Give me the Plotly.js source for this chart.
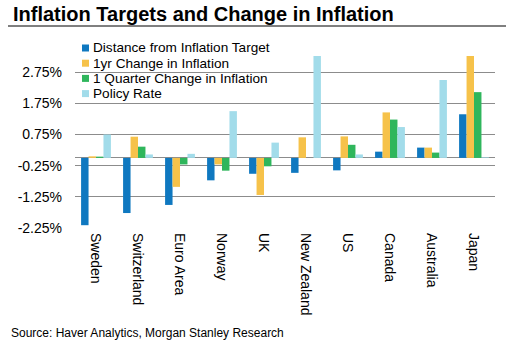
<!DOCTYPE html>
<html>
<head>
<meta charset="utf-8">
<script src="https://cdn.plot.ly/plotly-3.0.1.min.js"></script>
<style>html,body{margin:0;padding:0;background:#fff;}#chart{width:515px;height:343px;}</style>
</head>
<body>
<div id="chart"></div>
<script>
const categories = ["Sweden","Switzerland","Euro Area","Norway","UK","New Zealand","US","Canada","Australia","Japan"];
const distanceFromTarget = [-2.16,-1.77,-1.51,-0.72,-0.51,-0.48,-0.40,0.20,0.33,1.40];
const oneYearChange = [0.05,0.68,-0.93,-0.21,-1.19,0.66,0.69,1.46,0.33,3.40];
const oneQuarterChange = [0.04,0.36,-0.21,-0.41,-0.27,0.00,0.42,1.23,0.17,2.11];
const policyRate = [0.75,0.11,0.13,1.50,0.49,3.50,0.11,0.99,2.50,0.02];
const tickVals = [-2.25,-1.25,-0.25,0.75,1.75,2.75];
const tickText = ["-2.25%","-1.25%","-0.25%","0.75%","1.75%","2.75%"];
const seriesNames = ["Distance from Inflation Target","1yr Change in Inflation","1 Quarter Change in Inflation","Policy Rate"];
const seriesColors = ["#0f78c0","#f6c24a","#2fb65c","#a2dcea"];

const seriesValues = [distanceFromTarget, oneYearChange, oneQuarterChange, policyRate];
const traces = seriesValues.map((vals, i) => ({
  type: "bar",
  x: categories,
  y: vals,
  name: seriesNames[i],
  marker: {color: seriesColors[i]},
  hoverinfo: "none",
  showlegend: false
}));

const L = 75, R = 20, T = 56, B = 115, W = 515, H = 343;
const pw = W - L - R, ph = H - T - B;
const px = x => (x - L) / pw;
const py = y => (H - B - y) / ph;

const FONT = "Liberation Sans, Arial, sans-serif";

const shapes = [{
  type: "line", xref: "paper", yref: "paper",
  x0: px(8), x1: px(506), y0: py(26), y1: py(26),
  line: {color: "#000", width: 1}
}];
const annotations = [
  {
    text: "<b>Inflation Targets and Change in Inflation</b>",
    xref: "paper", yref: "paper",
    x: px(11), y: py(14), xanchor: "left", yanchor: "middle",
    showarrow: false,
    font: {family: FONT, size: 20, color: "#000"}
  },
  {
    text: "Source: Haver Analytics, Morgan Stanley Research",
    xref: "paper", yref: "paper",
    x: px(9), y: py(333), xanchor: "left", yanchor: "middle",
    showarrow: false,
    font: {family: FONT, size: 12, color: "#000"}
  }
];
// legend (custom, to match the tight row spacing of the reference)
const legendRowY = 48, legendRowStep = 15.2;
seriesNames.forEach((name, i) => {
  const cy = legendRowY + i * legendRowStep;
  shapes.push({
    type: "rect", xref: "paper", yref: "paper",
    x0: px(82), x1: px(89), y0: py(cy + 3.5), y1: py(cy - 3.5),
    fillcolor: seriesColors[i], line: {width: 0}
  });
  annotations.push({
    text: name, xref: "paper", yref: "paper",
    x: px(91), y: py(cy), xanchor: "left", yanchor: "middle",
    showarrow: false,
    font: {family: FONT, size: 13.6, color: "#000"}
  });
});

const layout = {
  width: W, height: H,
  margin: {l: L, r: R, t: T, b: B, pad: 0},
  paper_bgcolor: "#fff",
  plot_bgcolor: "rgba(0,0,0,0)",
  font: {family: FONT, size: 14, color: "#000"},
  barmode: "group",
  bargap: 0.29,
  bargroupgap: 0,
  showlegend: false,
  xaxis: {
    type: "category",
    tickangle: 90,
    showgrid: false,
    showline: false,
    ticks: "",
    ticklabelstandoff: 4,
    tickfont: {size: 14, color: "#000"},
    fixedrange: true
  },
  yaxis: {
    range: [-2.25, 3.27],
    tickvals: tickVals,
    ticktext: tickText,
    showgrid: true,
    gridcolor: "#8c8c8c",
    gridwidth: 1,
    zeroline: true,
    zerolinecolor: "#8c8c8c",
    zerolinewidth: 1,
    showline: false,
    ticks: "",
    ticklabelstandoff: 12,
    tickfont: {size: 14, color: "#000"},
    fixedrange: true
  },
  shapes: shapes,
  annotations: annotations
};

Plotly.newPlot("chart", traces, layout, {displayModeBar: false, staticPlot: true});
</script>
</body>
</html>
